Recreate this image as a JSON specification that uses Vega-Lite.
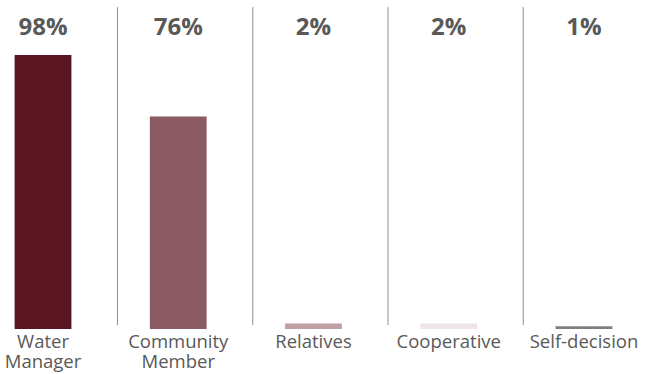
{
  "$schema": "https://vega.github.io/schema/vega-lite/v6.json",
  "width": 627,
  "height": 329,
  "autosize": {"type": "none"},
  "padding": {"left": 0, "top": 0, "right": 27, "bottom": 45},
  "background": "white",
  "config": {"view": {"stroke": null}, "font": "Open Sans"},
  "data": {
    "values": [
      {"source": "Water Manager", "share": 0.98, "sep": 1},
      {"source": "Community Member", "share": 0.76, "sep": 1},
      {"source": "Relatives", "share": 0.02, "sep": 1},
      {"source": "Cooperative", "share": 0.02, "sep": 1},
      {"source": "Self-decision", "share": 0.01, "sep": 0}
    ]
  },
  "encoding": {
    "x": {
      "field": "source",
      "type": "nominal",
      "sort": null,
      "scale": {"paddingInner": 0.58, "paddingOuter": 0.108},
      "axis": {
        "title": null,
        "domain": false,
        "ticks": false,
        "labelAngle": 0,
        "labelFontSize": 18.5,
        "labelColor": "#595959",
        "labelPadding": 3,
        "labelLineHeight": 20,
        "labelBaseline": "top",
        "labelExpr": "split(datum.label, ' ')"
      }
    }
  },
  "layer": [
    {
      "transform": [{"filter": "datum.sep == 1"}],
      "mark": {"type": "rule", "strokeDash": [1, 1], "color": "#222222", "strokeWidth": 1, "xOffset": 74.5},
      "encoding": {
        "y": {"datum": 1.15, "type": "quantitative", "scale": {"domain": [0, 1.177], "nice": false, "zero": true}, "axis": null},
        "y2": {"datum": 0.014}
      }
    },
    {
      "mark": {"type": "bar"},
      "encoding": {
        "y": {"field": "share", "type": "quantitative", "scale": {"domain": [0, 1.177], "nice": false}, "axis": null},
        "color": {
          "field": "source",
          "type": "nominal",
          "sort": null,
          "scale": {
            "domain": ["Water Manager", "Community Member", "Relatives", "Cooperative", "Self-decision"],
            "range": ["#5a1522", "#8b5b63", "#c0a0a5", "#ede5e7", "#7f7f7f"]
          },
          "legend": null
        }
      }
    },
    {
      "mark": {"type": "text", "fontSize": 24, "fontWeight": "bold", "color": "#595959", "baseline": "middle"},
      "encoding": {
        "y": {"datum": 1.077, "type": "quantitative"},
        "text": {"field": "share", "type": "quantitative", "format": ".0%"}
      }
    }
  ],
  "resolve": {"scale": {"y": "shared"}}
}
